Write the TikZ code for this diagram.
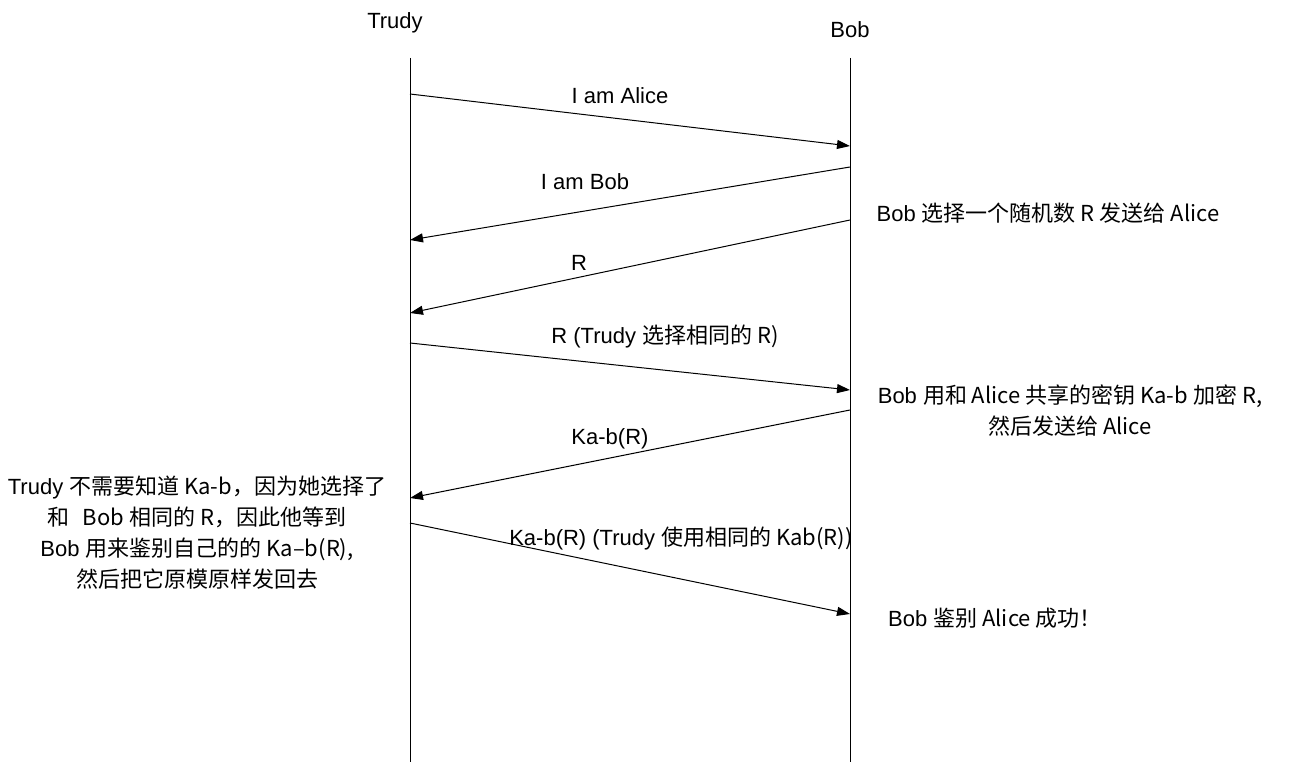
\documentclass[tikz,border=0pt]{standalone}
\usepackage{fontspec}
\setmainfont{Liberation Sans}
\newfontfamily\cjk{Noto Sans CJK SC}
\usetikzlibrary{arrows.meta}

\begin{document}
\begin{tikzpicture}[
  x=0.5pt, y=-0.5pt,
  >={Triangle[length=6.5pt,width=4.5pt]},
  font=\fontsize{11}{15.5}\selectfont,
  life/.style={line width=0.5pt},
  msg/.style={->,line width=0.5pt},
  lbl/.style={inner sep=0pt,anchor=base},
  note/.style={align=center,inner sep=0pt},
]
  \useasboundingbox (0,0) rectangle (1291,765);

  % actors and lifelines
  \node[lbl] (trudy) at (395,29) {Trudy};
  \node[lbl] (bob) at (850,38) {Bob};
  \foreach \name/\x/\y in {ttop/410/58, tbot/410/762, btop/850/58, bbot/850/762}
    \coordinate (\name) at (\x,\y);
  \draw[life] (ttop) -- (tbot);
  \draw[life] (btop) -- (bbot);

  % message ends
  \foreach \name/\x/\y in {t1/410/94, b1/850/146, b2/850/167, t2/410/240,
      b3/850/220, t3/410/313, t4/410/343, b4/850/390, b5/850/410, t5/410/498,
      t6/410/523, b6/850/614}
    \coordinate (\name) at (\x,\y);

  \foreach \from/\to/\lx/\ly/\lab in {%
      t1/b1/620/104/{I am Alice},
      b2/t2/585/190/{I am Bob},
      b3/t3/579/270/{R},
      t4/b4/665/343/{R (Trudy \cjk{选择相同的} R)},
      b5/t5/610/444/{Ka-b(R)},
      t6/b6/681/545/{Ka-b(R) (Trudy \cjk{使用相同的} Kab(R))}}
  {
    \draw[msg] (\from) -- (\to);
    \node[lbl] (m\from) at (\lx,\ly) {\lab};
  }

  % notes
  \node[lbl] (nrand) at (1048,221) {Bob \cjk{选择一个随机数} R \cjk{发送给} Alice};
  \node[note] (nenc) at (1070,411) {Bob \cjk{用和} Alice \cjk{共享的密钥} Ka-b \cjk{加密} R,\\
    \cjk{然后发送给} Alice};
  \node[lbl] (nok) at (995,626) {Bob \cjk{鉴别} Alice \cjk{成功！}};
  \node[note] (ntrudy) at (197,533) {Trudy \cjk{不需要知道} Ka-b\cjk{，因为她选择了}\\
    \cjk{和}\hspace{0.6em}Bob \cjk{相同的} R\cjk{，因此他等到}\\
    Bob \cjk{用来鉴别自己的的} Ka–b(R),\\
    \cjk{然后把它原模原样发回去}};
\end{tikzpicture}
\end{document}
